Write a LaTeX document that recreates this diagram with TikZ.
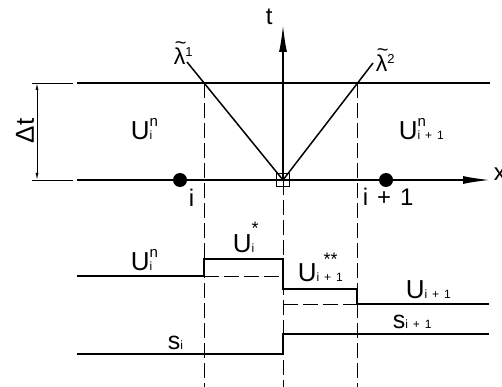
\documentclass[tikz,border=0pt]{standalone}
\usepackage{fontspec}
\setmainfont{Liberation Sans}
\usetikzlibrary{arrows.meta}
\newcommand\fs[1]{\fontsize{#1}{#1}\selectfont}
% base, sub, sup, raise, hshift
\newcommand\SymA[5]{#1\makebox[0pt][l]{\hspace{#5}\raisebox{#4}{\fs{15}#3}}{\fs{12}#2}}
\newcommand\SymB[5]{#1\makebox[0pt][l]{\hspace{#5}\raisebox{#4}{\fs{18}#3}}{\fs{12}#2}}
\newcommand\lamt[1]{\fs{23}\makebox[0pt][l]{\hspace{1pt}\raisebox{15pt}{\fs{20}\textasciitilde}}λ\raisebox{8.5pt}{\fs{13}#1}}
\newcommand\ipo{i\hspace{5pt}+\hspace{5pt}1}
\begin{document}
\begin{tikzpicture}[x=1pt,y=-1pt,line width=1.5pt,
  dsh/.style={line width=0.9pt,dash pattern=on 15pt off 5pt},
  extln/.style={line width=0.9pt},
  lbl/.style={inner sep=0pt,anchor=base west},
  dotnode/.style={circle,fill=black,minimum size=14pt,inner sep=0pt},
  axtip/.style={-{Latex[length=27pt,width=8pt]}},
  dimtip/.style={{Latex[length=7pt,width=3pt]}-{Latex[length=7pt,width=3pt]},line width=0.9pt}]
\useasboundingbox (0,0) rectangle (502,387);
% key coordinates
\coordinate (TL) at (77,83);
\coordinate (TR) at (490,83);
\coordinate (XL) at (77,180);
\coordinate (XR) at (490,180);
\coordinate (O) at (283,180);
\coordinate (T) at (283,25);
\coordinate (L1) at (187,62);
\coordinate (L2) at (373,63);
\coordinate (A) at (204,83);
\coordinate (B) at (357,83);
\coordinate (Ab) at (204,387);
\coordinate (Bb) at (357,387);
\coordinate (Ob) at (283,387);
\coordinate (E1a) at (32,83);
\coordinate (E1b) at (73,83);
\coordinate (E2a) at (32,180);
\coordinate (E2b) at (73,180);
\coordinate (D1) at (37,83);
\coordinate (D2) at (37,180);
% lower step points
\coordinate (u0) at (77,276);
\coordinate (u1) at (204,276);
\coordinate (u2) at (204,259);
\coordinate (u3) at (283,259);
\coordinate (u4) at (283,289);
\coordinate (u5) at (357,289);
\coordinate (u6) at (357,304);
\coordinate (u7) at (489,304);
\coordinate (d1) at (283,276);
\coordinate (d2) at (283,304);
\coordinate (s0) at (77,354);
\coordinate (s1) at (283,354);
\coordinate (s2) at (283,334);
\coordinate (s3) at (489,334);

% dashed verticals
\draw[dsh] (A) -- (Ab);
\draw[dsh] (B) -- (Bb);
\draw[dsh] (O) -- (Ob);
% horizontal lines
\draw (TL) -- (TR);
\draw[axtip] (XL) -- (XR);
\draw[axtip] (O) -- (T);
% dimension
\draw[extln] (E1a) -- (E1b);
\draw[extln] (E2a) -- (E2b);
\draw[dimtip] (D1) -- (D2);
% characteristics
\draw (L1) -- (O) -- (L2);
\node[draw,line width=0.9pt,minimum size=13pt,inner sep=0pt] (sq) at (O) {};
% grid points
\node[dotnode] (pi) at (180,180) {};
\node[dotnode] (pi1) at (386,180) {};
% lower profiles
\draw (u0) -- (u1) -- (u2) -- (u3) -- (u4) -- (u5) -- (u6) -- (u7);
\draw[dsh] (u1) -- (d1);
\draw[dsh] (d2) -- (u6);
\draw (s0) -- (s1) -- (s2) -- (s3);

% labels
\node[rotate=90,inner sep=0pt] (dt) at (25,131) {\fs{26}Δt};
\node[lbl] (lt) at (265,25) {\fs{24}t};
\node[lbl] (lx) at (493,180) {\fs{24}x};
\node[lbl] (li) at (188,206) {\fs{24}i};
\node[lbl] (li1) at (362,205) {\fs{24}i\hspace{9pt}+\hspace{9pt}1};
\node[lbl] (lam1) at (173,65) {\lamt{1}};
\node[lbl] (lam2) at (375,72) {\lamt{2}};
\node[lbl] (uin) at (130,140) {\fs{26}\SymA{U}{i}{n}{13pt}{0pt}};
\node[lbl] (uin1) at (398,140) {\fs{26}\SymA{U}{\ipo}{n}{13pt}{0pt}};
\node[lbl] (uinl) at (130,270) {\fs{26}\SymA{U}{i}{n}{13pt}{0pt}};
\node[lbl] (uis) at (232,252.5) {\fs{26}\SymB{U}{i}{*}{18pt}{0pt}};
\node[lbl] (uiss) at (297,281.5) {\fs{26}\SymB{U}{\ipo}{**}{16pt}{7pt}};
\node[lbl] (ui1) at (405,298) {\fs{26}\SymA{U}{\ipo}{}{13pt}{0pt}};
\node[lbl] (si1) at (392,328) {\fs{25}\SymA{s}{\ipo}{}{13pt}{0pt}};
\node[lbl] (si) at (167,349) {\fs{25}\SymA{s}{i}{}{13pt}{0pt}};
\end{tikzpicture}
\end{document}
